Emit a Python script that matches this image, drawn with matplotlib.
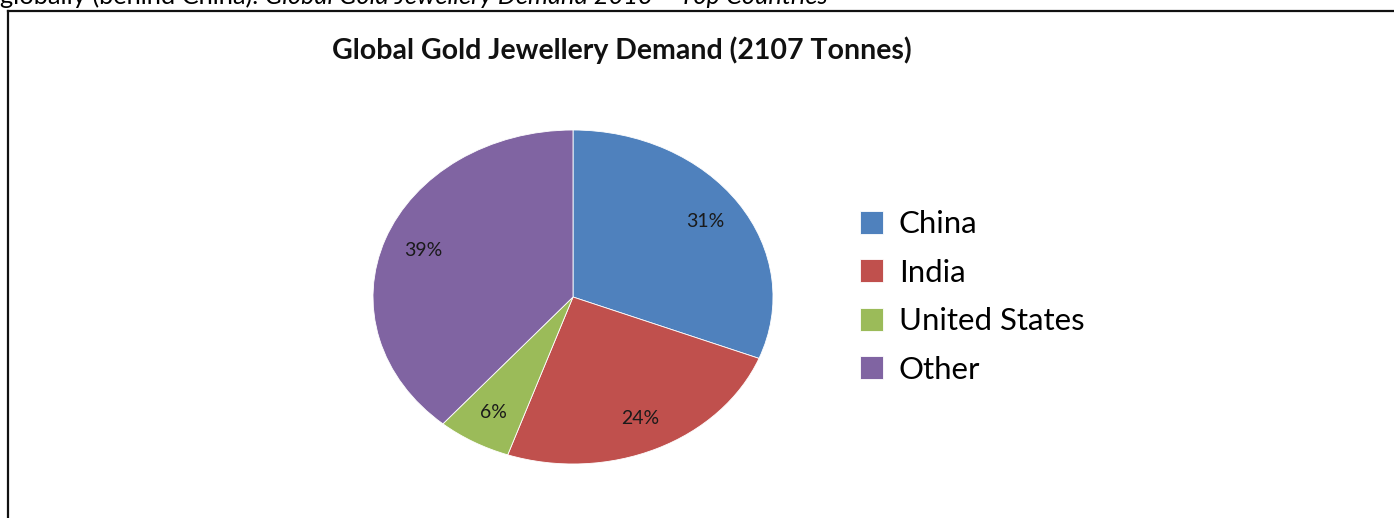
import matplotlib
matplotlib.use('Agg')
import matplotlib.pyplot as plt
from matplotlib.lines import Line2D

# 数据（吨），合计 2107
countries = ['China', 'India', 'United States', 'Other']
tonnes = [653, 512, 126, 816]
colors = ['#4F81BD', '#C0504D', '#9BBB59', '#8064A2']

title = 'Global Gold Jewellery Demand (2107 Tonnes)'
caption_plain = 'globally (behind China). '
caption_italic = 'Global Gold Jewellery Demand 2013 \u2013 Top Countries'

plt.rcParams['font.family'] = ['Lato', 'DejaVu Sans']

W, H = 1394, 518
fig = plt.figure(figsize=(W / 100, H / 100), dpi=100)
fig.patch.set_facecolor('white')


def fit_width(txt, target_px):
    """按目标像素宽度调整字号"""
    fig.canvas.draw()
    w = txt.get_window_extent().width
    txt.set_fontsize(txt.get_fontsize() * target_px / w)


# 上方被截断的正文
t1 = fig.text(0.0, 1 - 4 / H, caption_plain, fontsize=14, va='baseline', ha='left')
t2 = fig.text(0.0, 1 - 4 / H, caption_italic, fontsize=14, style='italic',
              va='baseline', ha='left')
fig.canvas.draw()
w1 = t1.get_window_extent().width
w2 = t2.get_window_extent().width
scale = 830 / (w1 + w2)
t1.set_fontsize(14 * scale)
t2.set_fontsize(14 * scale)
fig.canvas.draw()
t2.set_x(t1.get_window_extent().x1 / W)

# 图框（右侧、底部超出画面）
fig.add_artist(Line2D([8 / W, 8 / W], [0, 1 - 11 / H], color='#111111', lw=1.6,
                      transform=fig.transFigure))
fig.add_artist(Line2D([8 / W, 1.0], [1 - 11 / H, 1 - 11 / H], color='#111111', lw=1.6,
                      transform=fig.transFigure))

# 标题
tt = fig.text(622 / W, 1 - 50 / H, title, fontsize=14, fontweight='bold',
              ha='center', va='center', color='#111111')
fit_width(tt, 583)

# 饼图（椭圆形）
ax = fig.add_axes([373 / W, (H - 464) / H, 400 / W, 334 / H])
wedges, texts, autotexts = ax.pie(
    tonnes, colors=colors, startangle=90, counterclock=False,
    autopct='%1.0f%%', pctdistance=0.8,
    wedgeprops=dict(edgecolor='white', linewidth=0.6),
    textprops=dict(fontsize=14, color='#1a1a1a'))
ax.set_aspect('auto')
ax.set_xlim(-1, 1)
ax.set_ylim(-1, 1)
ax.axis('off')

# 图例
probe = fig.text(0, 0, 'United States', fontsize=16)
fit_width(probe, 186)
leg_size = probe.get_fontsize()
probe.remove()

fig.legend(wedges, countries, loc='upper left',
           bbox_to_anchor=(860 / W, 1 - 210 / H), frameon=False,
           fontsize=leg_size, handlelength=0.75, handleheight=0.75,
           handletextpad=0.5, labelspacing=0.66, borderpad=0, borderaxespad=0)

fig.savefig('out.png', dpi=100)
